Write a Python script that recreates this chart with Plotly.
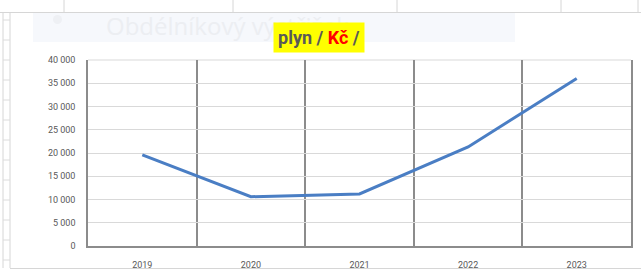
import plotly.graph_objects as go

years = ["2019", "2020", "2021", "2022", "2023"]
gas_czk = [19600, 10600, 11200, 21300, 36000]
y_tickvals = [0, 5000, 10000, 15000, 20000, 25000, 30000, 35000, 40000]
y_ticktext = ["0", "5 000", "10 000", "15 000", "20 000", "25 000", "30 000", "35 000", "40 000"]

W, H = 641, 271
L, R, T, B = 88, 10, 60, 25
PW, PH = W - L - R, H - T - B

def px(x):
    return (x - L) / PW

def py(y):
    return (H - B - y) / PH

fig = go.Figure()
fig.add_trace(go.Scatter(
    x=years, y=gas_czk, mode="lines",
    line=dict(color="#4a7ec4", width=3),
    hoverinfo="skip", showlegend=False,
))

shapes = []
# faint background snip rectangle
shapes.append(dict(type="rect", xref="paper", yref="paper", x0=px(33), x1=px(515), y0=py(42), y1=py(13),
                   fillcolor="#f6f8fc", line=dict(width=0), layer="below"))
# faint circle icon
shapes.append(dict(type="circle", xref="paper", yref="paper", x0=px(53), x1=px(62), y0=py(24), y1=py(15),
                   fillcolor="#eef0f4", line=dict(width=0), layer="below"))
# spreadsheet cell borders on top
shapes.append(dict(type="line", xref="paper", yref="paper", x0=px(0), x1=px(641), y0=py(12.5), y1=py(12.5),
                   line=dict(color="#d6d6d6", width=1.2), layer="below"))
for xv in [64, 233, 397, 561, 638]:
    shapes.append(dict(type="line", xref="paper", yref="paper", x0=px(xv), x1=px(xv), y0=py(0), y1=py(12),
                       line=dict(color="#d6d6d6", width=1), layer="below"))
# left column borders
for xv in [3, 10]:
    shapes.append(dict(type="line", xref="paper", yref="paper", x0=px(xv), x1=px(xv), y0=py(268), y1=py(13),
                       line=dict(color="#d6d6d6", width=1), layer="below"))
for yv in range(20, 268, 20):
    shapes.append(dict(type="line", xref="paper", yref="paper", x0=px(3), x1=px(10), y0=py(yv), y1=py(yv),
                       line=dict(color="#dcdcdc", width=1), layer="below"))
# bottom border
shapes.append(dict(type="line", xref="paper", yref="paper", x0=px(10), x1=px(641), y0=py(268.5), y1=py(268.5),
                   line=dict(color="#d6d6d6", width=1.2), layer="below"))
# top gridline of plot
shapes.append(dict(type="line", xref="paper", yref="paper", x0=0, x1=1, y0=1, y1=1,
                   line=dict(color="#d9d9d9", width=1), layer="below"))

fig.update_layout(
    width=W, height=H,
    margin=dict(l=L, r=R, t=T, b=B),
    paper_bgcolor="white", plot_bgcolor="white",
    font=dict(family="Roboto, Open Sans, sans-serif", color="#595959", size=9),
    shapes=shapes,
    xaxis=dict(
        type="category", range=[-0.5, 4.5], tickson="boundaries",
        showgrid=True, gridcolor="#8c8c8c", gridwidth=1.5,
        showline=True, linecolor="#8c8c8c", linewidth=1.5,
        ticks="", tickfont=dict(size=9, color="#595959"), ticklabelstandoff=9,
        automargin=False, fixedrange=True,
    ),
    yaxis=dict(
        range=[0, 40000], tickvals=y_tickvals, ticktext=y_ticktext,
        showgrid=True, gridcolor="#d9d9d9", gridwidth=1,
        showline=True, linecolor="#8c8c8c", linewidth=1.5, mirror=True,
        zeroline=False, ticks="", tickfont=dict(size=9, color="#595959"),
        ticklabelstandoff=9, automargin=False, fixedrange=True,
    ),
    annotations=[
        dict(xref="paper", yref="paper", x=px(104), y=py(26), xanchor="left", yanchor="middle",
             text="Obdélníkový výstřižek", showarrow=False,
             font=dict(size=24, color="#eceef2", family="Open Sans, sans-serif")),
        dict(xref="paper", yref="paper", x=px(319), y=py(37.5), xanchor="center", yanchor="middle",
             text="<b>plyn / <span style='color:#ff0000'>Kč</span> /</b>",
             font=dict(size=18, color="#595959", family="Roboto, sans-serif"),
             bgcolor="#ffff00", borderpad=4, showarrow=False),
    ],
)

fig.write_html("out.html", config={"displayModeBar": False},
               post_script="document.body.style.margin='0';")
